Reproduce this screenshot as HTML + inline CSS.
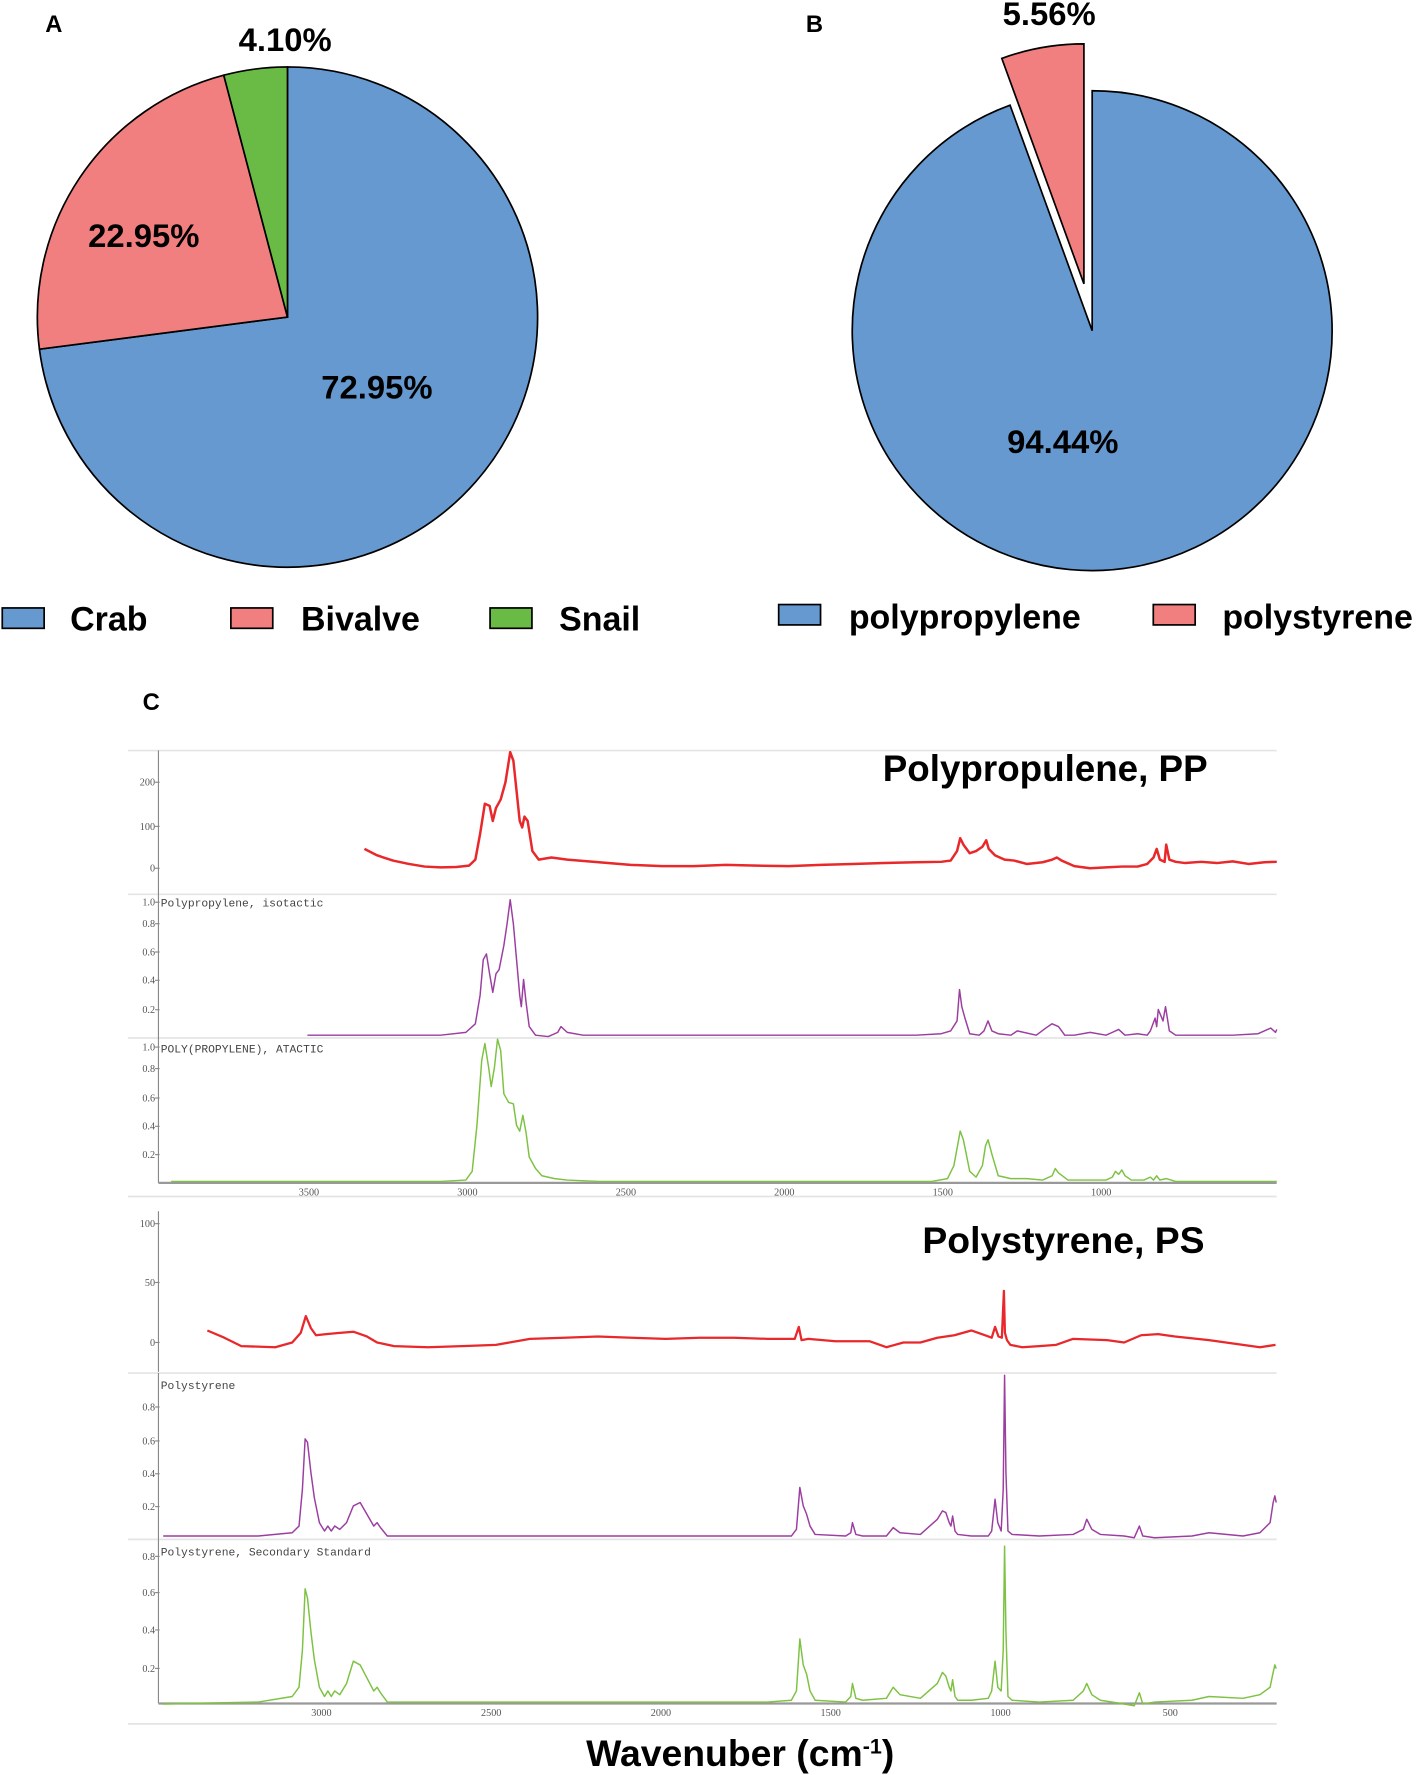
<!DOCTYPE html>
<html><head><meta charset="utf-8"><style>
html,body{margin:0;padding:0;background:#fff;}
svg{display:block;font-family:"Liberation Sans",sans-serif;}
</style></head><body>
<svg id="fig" width="1417" height="1775" viewBox="0 0 1252 1568" xmlns="http://www.w3.org/2000/svg">
<g id="pies"></g>
<g id="spec"></g>
</svg>
<script>
const pieALabels=["Crab","Bivalve","Snail"];
const pieAValues=[72.95,22.95,4.10];
const pieBLabels=["polypropylene","polystyrene"];
const pieBValues=[94.44,5.56];
const tickPP=[3500,3000,2500,2000,1500,1000];
const tickPS=[3000,2500,2000,1500,1000,500];
const ppRedW=[3325,3285,3235,3185,3135,3085,3035,2995,2975,2960,2945,2930,2920,2910,2895,2880,2865,2855,2845,2835,2827,2820,2810,2795,2775,2735,2685,2585,2485,2385,2285,2185,2085,1985,1885,1785,1685,1585,1505,1475,1455,1445,1435,1415,1395,1375,1363,1355,1335,1305,1275,1235,1185,1155,1140,1125,1085,1035,985,935,885,855,835,825,815,800,795,785,765,735,685,635,585,535,485,446];
const ppRedV=[45,30,18,10,4,2,3,6,20,80,150,145,110,140,160,200,270,250,180,110,95,120,110,40,20,25,20,14,8,5,5,8,6,5,8,10,12,14,15,18,40,70,55,35,40,50,65,45,30,20,18,10,14,20,25,18,5,0,2,4,4,10,25,45,20,15,55,20,15,12,15,12,16,10,14,15];
const ppPurW=[3505,3385,3185,3085,3005,2975,2960,2950,2940,2930,2920,2910,2900,2885,2875,2865,2855,2845,2835,2830,2823,2815,2805,2785,2745,2715,2705,2685,2635,2485,1985,1585,1505,1475,1455,1447,1440,1430,1415,1385,1370,1363,1357,1345,1325,1285,1265,1205,1175,1155,1135,1115,1085,1035,985,965,945,925,885,855,845,830,825,820,805,797,785,765,685,585,505,465,450,446];
const ppPurV=[0.02,0.02,0.02,0.02,0.04,0.10,0.30,0.55,0.59,0.45,0.32,0.45,0.48,0.65,0.80,0.97,0.80,0.55,0.30,0.22,0.41,0.25,0.08,0.02,0.01,0.04,0.08,0.04,0.02,0.02,0.02,0.02,0.03,0.05,0.12,0.34,0.22,0.14,0.03,0.02,0.05,0.09,0.12,0.05,0.03,0.02,0.05,0.02,0.07,0.10,0.08,0.02,0.02,0.04,0.02,0.04,0.06,0.02,0.03,0.02,0.05,0.14,0.08,0.20,0.12,0.22,0.05,0.02,0.02,0.02,0.03,0.07,0.04,0.06];
const ppGrnW=[3935,3485,3085,3005,2985,2970,2955,2945,2933,2925,2915,2905,2895,2885,2870,2855,2845,2835,2825,2815,2805,2785,2765,2725,2685,2585,1985,1535,1485,1465,1450,1445,1435,1415,1395,1375,1365,1357,1345,1325,1285,1235,1185,1155,1145,1135,1105,1035,985,965,955,945,935,925,905,865,845,835,825,815,795,765,585,446];
const ppGrnV=[0.01,0.01,0.01,0.02,0.08,0.40,0.85,0.97,0.80,0.67,0.80,1.0,0.92,0.62,0.56,0.55,0.40,0.36,0.47,0.35,0.18,0.10,0.05,0.03,0.02,0.01,0.01,0.01,0.03,0.12,0.30,0.36,0.30,0.08,0.04,0.12,0.26,0.30,0.20,0.05,0.03,0.03,0.02,0.05,0.10,0.07,0.02,0.02,0.02,0.04,0.08,0.06,0.09,0.05,0.02,0.02,0.04,0.02,0.05,0.02,0.03,0.01,0.01,0.01];
const psRedW=[3336,3286,3236,3136,3086,3061,3046,3031,3016,2986,2946,2906,2866,2836,2786,2686,2586,2486,2386,2286,2186,2086,1986,1886,1786,1686,1606,1594,1586,1566,1486,1386,1336,1286,1236,1186,1136,1086,1046,1026,1016,1006,996,990,987,981,971,936,886,836,786,686,636,586,536,486,386,286,236,190];
const psRedV=[10,4,-3,-4,0,8,22,12,6,7,8,9,5,0,-3,-4,-3,-2,3,4,5,4,3,4,4,3,3,13,2,3,1,1,-4,0,0,4,6,10,6,4,13,5,4,43,8,2,-2,-4,-3,-2,3,2,0,6,7,5,2,-2,-4,-2];
const psPurW=[3466,3186,3086,3066,3056,3048,3041,3031,3021,3006,2991,2981,2971,2961,2946,2926,2906,2886,2866,2846,2836,2826,2806,1616,1601,1591,1581,1571,1561,1546,1456,1441,1436,1426,1406,1336,1316,1296,1236,1186,1171,1161,1151,1146,1141,1134,1126,1086,1036,1026,1016,1008,998,992,988,984,978,966,886,786,756,746,731,706,636,606,591,581,546,436,386,286,236,206,197,192,188];
const psPurV=[0.02,0.02,0.04,0.08,0.30,0.60,0.58,0.40,0.25,0.10,0.05,0.08,0.05,0.08,0.06,0.10,0.20,0.22,0.15,0.08,0.10,0.07,0.02,0.02,0.06,0.31,0.20,0.15,0.08,0.03,0.02,0.04,0.10,0.03,0.02,0.02,0.07,0.04,0.03,0.12,0.17,0.16,0.10,0.08,0.14,0.05,0.03,0.02,0.02,0.05,0.24,0.10,0.05,0.30,0.98,0.40,0.05,0.03,0.02,0.03,0.06,0.12,0.06,0.03,0.02,0.01,0.08,0.02,0.01,0.02,0.04,0.02,0.04,0.10,0.22,0.26,0.22];
const psGrnW=[3466,3186,3086,3066,3056,3048,3041,3031,3021,3006,2991,2981,2971,2961,2946,2926,2906,2886,2866,2846,2836,2826,2806,1686,1616,1601,1591,1581,1571,1561,1546,1456,1441,1436,1426,1406,1336,1316,1296,1236,1186,1171,1161,1151,1146,1141,1134,1126,1086,1036,1026,1016,1008,998,992,988,984,978,966,886,786,756,746,731,706,636,606,591,581,546,436,386,286,236,206,197,192,188];
const psGrnV=[0.01,0.02,0.05,0.10,0.30,0.63,0.58,0.40,0.25,0.10,0.05,0.08,0.05,0.08,0.06,0.12,0.24,0.22,0.15,0.08,0.10,0.07,0.02,0.02,0.03,0.08,0.36,0.22,0.17,0.08,0.03,0.02,0.05,0.12,0.04,0.03,0.04,0.10,0.06,0.04,0.12,0.18,0.16,0.10,0.08,0.14,0.05,0.03,0.03,0.04,0.08,0.24,0.10,0.08,0.30,0.86,0.40,0.05,0.03,0.02,0.03,0.08,0.12,0.06,0.03,0.01,0.0,0.07,0.01,0.02,0.03,0.05,0.04,0.06,0.10,0.18,0.22,0.20];

const NS="http://www.w3.org/2000/svg";
function mk(tag,attrs,parent,text){const e=document.createElementNS(NS,tag);for(const k in attrs)e.setAttribute(k,attrs[k]);if(text!==undefined)e.textContent=text;parent.appendChild(e);return e;}
const pies=document.getElementById('pies');
const spec=document.getElementById('spec');

function wedge(cx,cy,r,a0,a1){const p=a=>[cx+r*Math.sin(a*Math.PI/180),cy-r*Math.cos(a*Math.PI/180)];const s=p(a0),e=p(a1);const large=(a1-a0)>180?1:0;return `M${cx},${cy}L${s[0]},${s[1]}A${r},${r} 0 ${large} 1 ${e[0]},${e[1]}Z`;}
const colA=["#6699cf","#f27f7f","#6abb45"];
let acc=0;
const aTot=pieAValues.reduce((a,b)=>a+b,0);
pieAValues.forEach((v,i)=>{const a0=acc/aTot*360,a1=(acc+v)/aTot*360;acc+=v;
 const w=mk('path',{d:wedge(254,280,221,a0,a1),fill:colA[i],stroke:'#000','stroke-width':1.5},pies);
 
 });
const labA=[[333,352],[127,218],[252,45]];
pieAValues.forEach((v,i)=>{const t=mk('text',{x:labA[i][0],y:labA[i][1],'text-anchor':'middle','font-size':29,'font-weight':'bold'},pies,v.toFixed(2)+'%');
 
 });
const colB=["#6699cf","#f27f7f"];
acc=0;const bTot=pieBValues.reduce((a,b)=>a+b,0);
pieBValues.forEach((v,i)=>{const a0=acc/bTot*360,a1=(acc+v)/bTot*360;acc+=v;
 const mid=(a0+a1)/2*Math.PI/180;const off=i===1?42:0;
 const cx=965+off*Math.sin(mid),cy=292-off*Math.cos(mid);
 const w=mk('path',{d:wedge(cx,cy,212,a0,a1),fill:colB[i],stroke:'#000','stroke-width':1.5},pies);
 
 });
const labB=[[939,400],[927,22]];
pieBValues.forEach((v,i)=>{const t=mk('text',{x:labB[i][0],y:labB[i][1],'text-anchor':'middle','font-size':29,'font-weight':'bold'},pies,v.toFixed(2)+'%');
 
 });
[["A",40,28],["B",712,28],["C",126,627]].forEach(l=>{const t=mk('text',{x:l[1],y:l[2],'font-size':21,'font-weight':'bold'},pies,l[0]);
 
 });
const legA=[[2,62],[204,266],[433,494]];
pieALabels.forEach((n,i)=>{const r=mk('rect',{x:legA[i][0],y:537,width:37,height:18,fill:colA[i],stroke:'#000','stroke-width':1.5},pies);
 
 
 const t=mk('text',{x:legA[i][1],y:557,'font-size':30,'font-weight':'bold'},pies,n);
 
 });
const legB=[[688,750],[1019,1080]];
pieBLabels.forEach((n,i)=>{const r=mk('rect',{x:legB[i][0],y:534,width:37,height:18,fill:colB[i],stroke:'#000','stroke-width':1.5},pies);
 
 
 const t=mk('text',{x:legB[i][1],y:555,'font-size':30,'font-weight':'bold'},pies,n);
 
 });

const xPP=w=>413+(3000-w)*0.28;
const xPS=w=>284+(3000-w)*0.30;
function series(W,V,xf,yf,col,sw,name){const pts=W.map((w,i)=>xf(w).toFixed(1)+','+yf(V[i]).toFixed(1)).join(' ');
 const p=mk('polyline',{points:pts,fill:'none',stroke:col,'stroke-width':sw,'stroke-linejoin':'round'},spec);
 
 }
function sep(y){const l=mk('line',{x1:113,x2:1128,y1:y,y2:y,stroke:'#e4e4e4','stroke-width':1.5},spec);
 
 }
function yaxis(y0,y1,ticks,name){const l=mk('line',{x1:140,x2:140,y1:y0,y2:y1,stroke:'#888','stroke-width':1},spec);
 
 
 ticks.forEach(t=>{const tx=mk('text',{x:137,y:t[1]+3,'text-anchor':'end','font-size':9,fill:'#555','font-family':'Liberation Serif'},spec,t[0]);
 
 
 mk('line',{x1:137,x2:141,y1:t[1],y2:t[1],stroke:'#888'},spec);});}
function xaxis(y,ticks,xf,name){const l=mk('line',{x1:140,x2:1128,y1:y,y2:y,stroke:'#999','stroke-width':2},spec);
 
 
 ticks.forEach(t=>{const tx=mk('text',{x:xf(t),y:y+11,'text-anchor':'middle','font-size':9,fill:'#555','font-family':'Liberation Serif'},spec,t);
 
 });}
[663,790,917,1057,1213,1360,1523].forEach(sep);
yaxis(663,790,[["200",691],["100",730],["0",767]],'pp-sample-y-axis');
yaxis(790,917,[["1.0",797],["0.8",816],["0.6",841],["0.4",866],["0.2",892]],'pp-isotactic-y-axis');
yaxis(917,1045,[["1.0",925],["0.8",944],["0.6",970],["0.4",995],["0.2",1020]],'pp-atactic-y-axis');
xaxis(1045,tickPP,xPP,'pp-x-axis');
yaxis(1070,1212,[["100",1081],["50",1133],["0",1186]],'ps-sample-y-axis');
yaxis(1213,1360,[["0.8",1243],["0.6",1273],["0.4",1302],["0.2",1331]],'ps-ref-y-axis');
yaxis(1360,1505,[["0.8",1375],["0.6",1407],["0.4",1440],["0.2",1474]],'ps-std-y-axis');
xaxis(1505,tickPS,xPS,'ps-x-axis');
series(ppRedW,ppRedV,xPP,v=>767-v*0.38,'#e8282a',2.2,'pp-sample-spectrum');
series(ppPurW,ppPurV,xPP,v=>917-v*126,'#9b3ea0',1.3,'pp-isotactic-spectrum');
series(ppGrnW,ppGrnV,xPP,v=>1045-v*127,'#7dc242',1.3,'pp-atactic-spectrum');
series(psRedW,psRedV,xPS,v=>1186-v*1.06,'#e8282a',2,'ps-sample-spectrum');
series(psPurW,psPurV,xPS,v=>1360-v*148,'#9b3ea0',1.3,'ps-reference-spectrum');
series(psGrnW,psGrnV,xPS,v=>1507-v*164,'#7dc242',1.3,'ps-standard-spectrum');
[["Polypropylene, isotactic",142,801],["POLY(PROPYLENE), ATACTIC",142,930],["Polystyrene",142,1227],["Polystyrene, Secondary Standard",142,1374]].forEach(s=>{
 const t=mk('text',{x:s[1],y:s[2],'font-size':10,fill:'#444','font-family':'Liberation Mono'},spec,s[0]);
 
 });
let t1=mk('text',{x:780,y:690,'font-size':32.5,'font-weight':'bold'},spec,'Polypropulene, PP');


let t2=mk('text',{x:815,y:1107,'font-size':33,'font-weight':'bold'},spec,'Polystyrene, PS');


let t3=mk('text',{x:654,y:1560,'text-anchor':'middle','font-size':33,'font-weight':'bold'},spec);


t3.innerHTML='Wavenuber (cm<tspan dy="-11" font-size="19">-1</tspan><tspan dy="11">)</tspan>';
</script>
</body></html>
